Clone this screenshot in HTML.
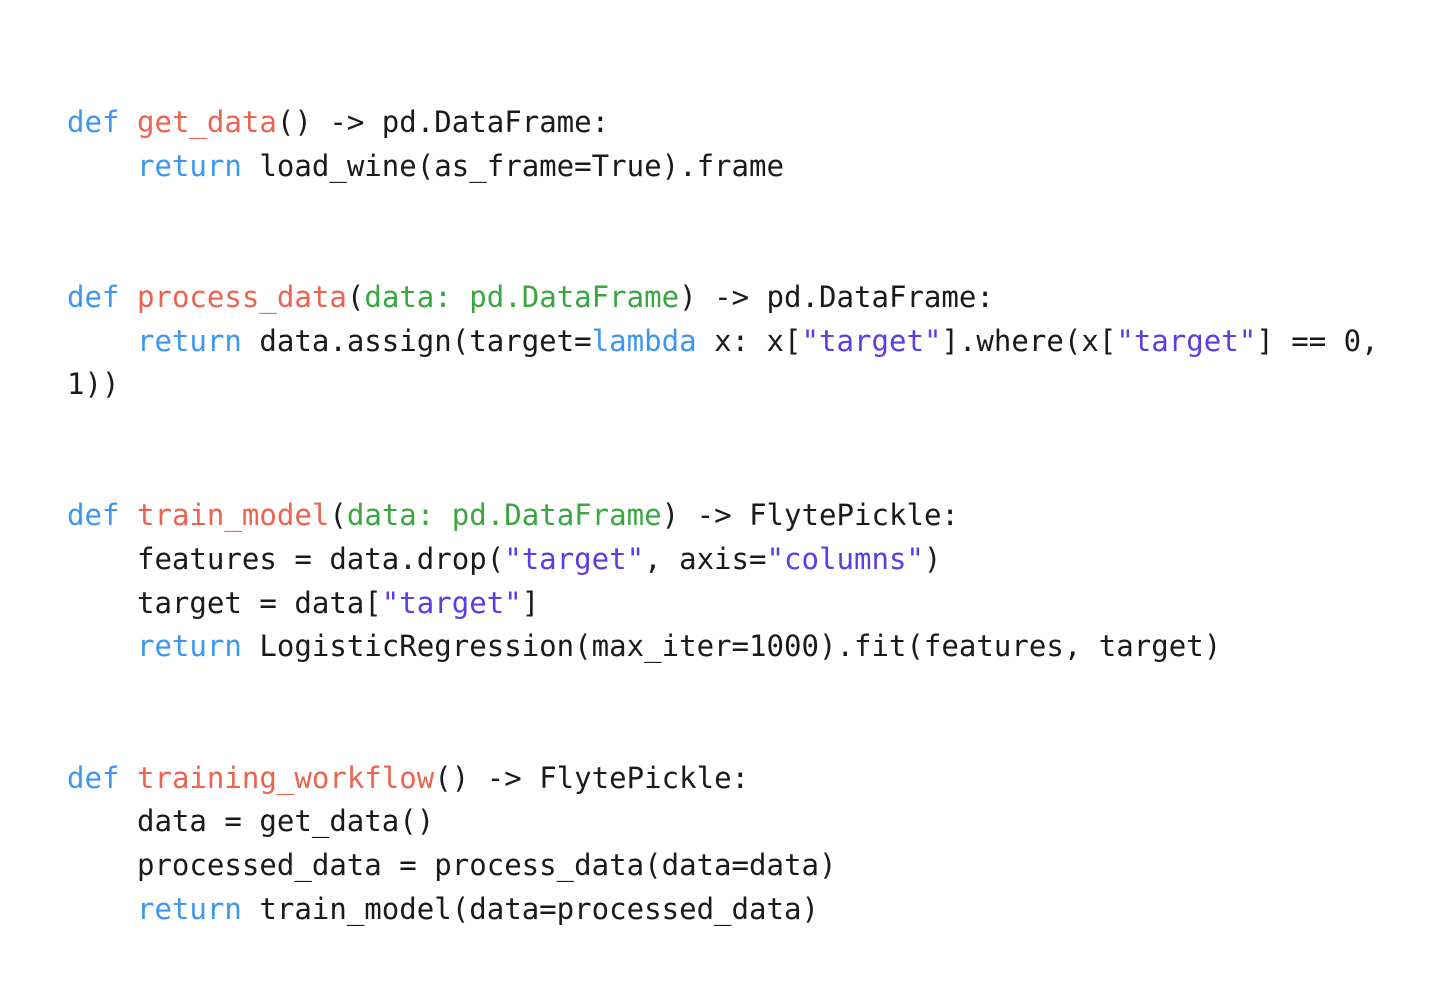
<!DOCTYPE html>
<html><head><meta charset="utf-8"><style>
html,body{margin:0;padding:0;background:#fff;width:1440px;height:985px;overflow:hidden}
pre{position:absolute;left:67px;top:101px;margin:0;font-family:"DejaVu Sans Mono","Liberation Mono",monospace;font-size:29.05px;line-height:43.7px;color:#1a1a1a}
.k{color:#3d97f0}.f{color:#ec6350}.p{color:#3aa63f}.s{color:#5a3de6}
</style></head><body><pre><span class="k">def</span> <span class="f">get_data</span>() -> pd.DataFrame:
    <span class="k">return</span> load_wine(as_frame=True).frame


<span class="k">def</span> <span class="f">process_data</span>(<span class="p">data: pd.DataFrame</span>) -> pd.DataFrame:
    <span class="k">return</span> data.assign(target=<span class="k">lambda</span> x: x[<span class="s">"target"</span>].where(x[<span class="s">"target"</span>] == 0,
1))


<span class="k">def</span> <span class="f">train_model</span>(<span class="p">data: pd.DataFrame</span>) -> FlytePickle:
    features = data.drop(<span class="s">"target"</span>, axis=<span class="s">"columns"</span>)
    target = data[<span class="s">"target"</span>]
    <span class="k">return</span> LogisticRegression(max_iter=1000).fit(features, target)


<span class="k">def</span> <span class="f">training_workflow</span>() -> FlytePickle:
    data = get_data()
    processed_data = process_data(data=data)
    <span class="k">return</span> train_model(data=processed_data)</pre></body></html>
